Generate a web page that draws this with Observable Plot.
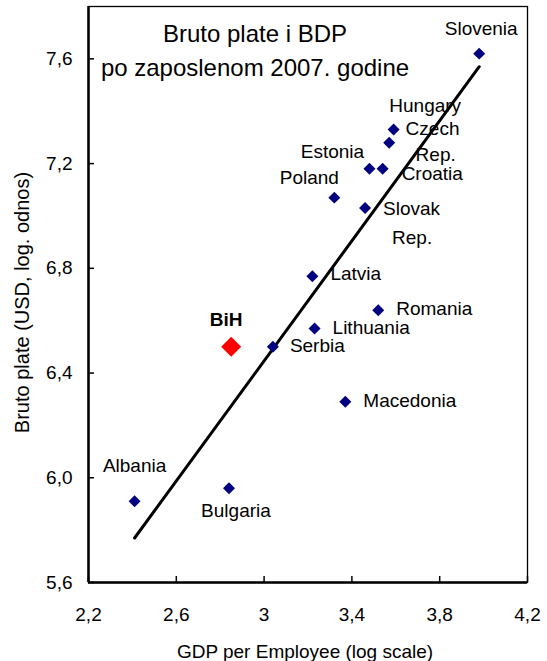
<!DOCTYPE html>
<html>
<head>
<meta charset="utf-8">
<script src="https://cdn.jsdelivr.net/npm/d3@7"></script>
<script src="https://cdn.jsdelivr.net/npm/@observablehq/plot@0.6"></script>
<style>
  html, body { margin: 0; padding: 0; background: #fff; }
  #chart { width: 547px; height: 661px; }
</style>
</head>
<body>
<div id="chart"></div>
<script>
// ---- data ----
const countries = ["Slovenia", "Hungary", "Czech Rep.", "Estonia", "Croatia", "Poland", "Slovak Rep.",
                   "Latvia", "Romania", "Lithuania", "Serbia", "Macedonia", "Bulgaria", "Albania"];
const gdpPerEmployee = [3.98, 3.57, 3.59, 3.48, 3.54, 3.32, 3.46, 3.22, 3.52, 3.23, 3.04, 3.37, 2.84, 2.41];
const grossWages     = [7.62, 7.28, 7.33, 7.18, 7.18, 7.07, 7.03, 6.77, 6.64, 6.57, 6.50, 6.29, 5.96, 5.91];

const bihName = "BiH";
const bihGdp = 2.85;
const bihWage = 6.50;

const fitGdp  = [2.41, 3.98];
const fitWage = [5.77, 7.57];

const xTicks = [2.2, 2.6, 3.0, 3.4, 3.8, 4.2];
const yTicks = [5.6, 6.0, 6.4, 6.8, 7.2, 7.6];

const titleLines = ["Bruto plate i BDP", "po zaposlenom 2007. godine"];
const xTitle = "GDP per Employee (log scale)";
const yTitle = "Bruto plate (USD, log. odnos)";

// ---- label layout (pixel offsets from each point) ----
const labelLayout = [
  {name: "Slovenia",   text: "Slovenia",  dx: 2,   dy: -25, anchor: "middle"},
  {name: "Hungary",    text: "Hungary",   dx: 36,  dy: -37, anchor: "middle"},
  {name: "Czech Rep.", text: "Czech",     dx: 12,  dy: -1,  anchor: "start"},
  {name: "Czech Rep.", text: "Rep.",      dx: 22,  dy: 25,  anchor: "start"},
  {name: "Estonia",    text: "Estonia",   dx: -37, dy: -17, anchor: "middle"},
  {name: "Croatia",    text: "Croatia",   dx: 19,  dy: 5,   anchor: "start"},
  {name: "Poland",     text: "Poland",    dx: -25, dy: -20, anchor: "middle"},
  {name: "Slovak Rep.",text: "Slovak",    dx: 18,  dy: 1,   anchor: "start"},
  {name: "Slovak Rep.",text: "Rep.",      dx: 27,  dy: 30,  anchor: "start"},
  {name: "Latvia",     text: "Latvia",    dx: 18,  dy: -2,  anchor: "start"},
  {name: "Romania",    text: "Romania",   dx: 18,  dy: -1,  anchor: "start"},
  {name: "Lithuania",  text: "Lithuania", dx: 18,  dy: -1,  anchor: "start"},
  {name: "Serbia",     text: "Serbia",    dx: 17,  dy: -1,  anchor: "start"},
  {name: "Macedonia",  text: "Macedonia", dx: 18,  dy: -1,  anchor: "start"},
  {name: "Bulgaria",   text: "Bulgaria",  dx: 7,   dy: 23,  anchor: "middle"},
  {name: "Albania",    text: "Albania",   dx: 0,   dy: -35, anchor: "middle"}
];

// ---- build tables ----
const points = countries.map((c, i) => ({name: c, x: gdpPerEmployee[i], y: grossWages[i]}));
const byName = new Map(points.map(p => [p.name, p]));
const fit = fitGdp.map((x, i) => ({x, y: fitWage[i]}));
const bih = [{name: bihName, x: bihGdp, y: bihWage}];

const W = 547, H = 661;
const mL = 88, mR = 20, mT = 6, mB = 79;
const frameW = W - mL - mR, frameH = H - mT - mB;
const tickLen = 6;

const commaFmtX = d => String(+d.toFixed(1)).replace(".", ",");
const commaFmtY = d => d.toFixed(1).replace(".", ",");

const labelMarks = labelLayout.map(l => {
  const p = byName.get(l.name);
  return Plot.text([p], {x: "x", y: "y", text: () => l.text, dx: l.dx, dy: l.dy,
    textAnchor: l.anchor, lineAnchor: "middle", fill: "black", fontSize: 19});
});

const chart = Plot.plot({
  width: W, height: H,
  marginLeft: mL, marginRight: mR, marginTop: mT, marginBottom: mB,
  style: {fontFamily: "'Liberation Sans', Arial, sans-serif", fontSize: "19px", color: "black", background: "white"},
  x: {domain: [2.2, 4.2]},
  y: {domain: [5.6, 7.8]},
  marks: [
    Plot.frame({stroke: "black", strokeWidth: 1.3}),
    Plot.ruleX([xTicks[0]], {stroke: "black", strokeWidth: 2.5}),
    Plot.ruleY([yTicks[0]], {stroke: "black", strokeWidth: 2.5}),
    Plot.ruleX(xTicks, {stroke: "black", strokeWidth: 1.5, insetTop: frameH - tickLen}),
    Plot.ruleY(yTicks, {stroke: "black", strokeWidth: 1.5, insetRight: frameW - tickLen}),
    Plot.axisX({ticks: xTicks, tickSize: 0, tickPadding: 25, tickFormat: commaFmtX, label: null, fontSize: 19}),
    Plot.axisY({ticks: yTicks, tickSize: 0, tickPadding: 16, tickFormat: commaFmtY, label: null, fontSize: 19}),
    Plot.line(fit, {x: "x", y: "y", stroke: "black", strokeWidth: 3}),
    Plot.dot(points, {x: "x", y: "y", symbol: "diamond2", r: 5.4, fill: "#000080", stroke: "none"}),
    Plot.dot(bih, {x: "x", y: "y", symbol: "diamond2", r: 9, fill: "#ff0000", stroke: "none"}),
    ...labelMarks,
    Plot.text(bih, {x: "x", y: "y", text: "name", dx: -5, dy: -27, fontWeight: "bold", fontSize: 19, fill: "black"}),
    Plot.text([titleLines[0]], {frameAnchor: "top", text: d => d, dx: -53, dy: 28, textAnchor: "middle", lineAnchor: "middle", fontSize: 24, fill: "black"}),
    Plot.text([titleLines[1]], {frameAnchor: "top", text: d => d, dx: -53, dy: 62, textAnchor: "middle", lineAnchor: "middle", fontSize: 24, fill: "black"}),
    Plot.text([xTitle], {frameAnchor: "bottom", text: d => d, dx: -3, dy: 69, textAnchor: "middle", lineAnchor: "middle", fontSize: 19, fill: "black"}),
    Plot.text([yTitle], {frameAnchor: "left", text: d => d, rotate: -90, dx: -66, dy: 8, textAnchor: "middle", lineAnchor: "middle", fontSize: 20, fill: "black"})
  ]
});
document.getElementById("chart").appendChild(chart);
</script>
</body>
</html>
